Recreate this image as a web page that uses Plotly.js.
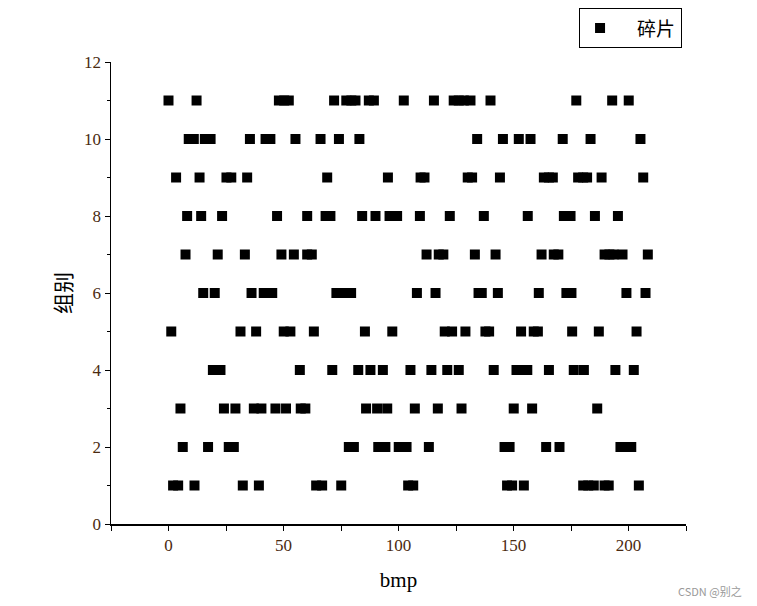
<!DOCTYPE html>
<html>
<head>
<meta charset="utf-8">
<script src="https://cdn.plot.ly/plotly-3.0.1.min.js"></script>
<style>html,body{margin:0;padding:0;background:#fff;}#chart{width:757px;height:606px;}</style>
</head>
<body>
<div id="chart"></div>
<script>
// bmp positions of the fragments for each group (组别 1..11)
const group1  = [2, 4.2, 11.3, 32.3, 39.3, 64.2, 66.8, 75.1, 104.2, 106.4, 147.2, 149.4, 154.5, 180.3, 182.5, 184.9, 189.6, 191.4, 204.5];
const group2  = [6.2, 17.2, 26.2, 28.4, 78.4, 80.6, 91.2, 94.3, 100.1, 103.5, 113.2, 146.1, 148.3, 164.2, 170, 196.5, 198.7, 201.2];
const group3  = [5.2, 24.1, 29.1, 37.1, 40.4, 46.5, 51.1, 57.5, 59.5, 85.9, 90.7, 95.1, 107.1, 117.1, 127.4, 150.1, 158.1, 186.4];
const group4  = [19.3, 22.6, 57.1, 71.2, 82.5, 87.8, 93.2, 105.2, 114.3, 121.2, 126.2, 141.4, 151.3, 154, 156, 165.4, 176.2, 180.6, 194.3, 202.3];
const group5  = [1.2, 31.3, 38.1, 50.1, 53, 63.2, 85.4, 97.3, 120.1, 123.3, 129.1, 137.8, 139.4, 153.3, 158.8, 160.6, 175.5, 187.1, 203.5];
const group6  = [15.1, 20.1, 36.1, 41.4, 45.1, 73, 76.2, 79.4, 108, 116.1, 134.8, 136.2, 143.2, 161, 173, 175.2, 199.1, 207.4];
const group7  = [7.4, 21.4, 33.2, 49.1, 54.5, 60.3, 62.3, 112.2, 117.5, 119.5, 133.2, 142.2, 162.2, 167.5, 169.5, 189.6, 191.7, 193.5, 197.4, 208.4];
const group8  = [8.1, 14.2, 23.3, 47.2, 60.3, 68.3, 70.4, 84.2, 90, 96.1, 97.8, 99.4, 109.3, 122.3, 137.1, 156.2, 171.9, 174.8, 185.4, 195.4];
const group9  = [3.3, 13.5, 25.2, 27.3, 34.2, 69, 95.4, 109.6, 111.3, 130.1, 132, 144.1, 163.2, 165.4, 167.1, 178.1, 180.3, 182, 188.3, 206.4];
const group10 = [8.8, 11, 15.8, 18.3, 35.4, 42.2, 44.3, 55.2, 66.1, 74.1, 83, 134.2, 145.4, 152.3, 157.4, 171.4, 183.5, 205.2];
const group11 = [0, 12.2, 48, 50.3, 52.3, 72, 77.3, 79.5, 81.3, 87.1, 89.3, 102.3, 115.4, 124, 126.2, 128.4, 131.3, 140, 177.3, 192.9, 200.1];

const groups = [group1, group2, group3, group4, group5, group6, group7, group8, group9, group10, group11];
const groupIds = [1, 2, 3, 4, 5, 6, 7, 8, 9, 10, 11];
const xTicks = [0, 50, 100, 150, 200];
const yTicks = [0, 2, 4, 6, 8, 10, 12];
const seriesName = '碎片';

const xs = [], ys = [];
groups.forEach((g, i) => g.forEach(v => { xs.push(v); ys.push(groupIds[i]); }));

const tickColor = '#4a2a10';
const serif = 'Liberation Serif, Times New Roman, serif';
const cjk = 'Noto Sans CJK SC, sans-serif';

const trace = {
  type: 'scatter', mode: 'markers',
  name: '\u00a0\u00a0\u00a0\u00a0' + seriesName,
  x: xs, y: ys,
  marker: {symbol: 'square', size: 10, color: '#000000'}
};

const layout = {
  width: 757, height: 606,
  margin: {l: 111, r: 71, t: 62, b: 82, autoexpand: false},
  paper_bgcolor: '#ffffff', plot_bgcolor: '#ffffff',
  showlegend: true,
  legend: {
    x: 0.814, y: 1.073, xanchor: 'left', yanchor: 'middle',
    bordercolor: '#000000', borderwidth: 1, bgcolor: '#ffffff',
    font: {family: cjk, size: 19, color: '#000000'},
    itemwidth: 30, tracegroupgap: 0
  },
  xaxis: {
    range: [-25, 225], tickvals: xTicks, ticktext: xTicks.map(String),
    showgrid: false, zeroline: false, showline: true, linecolor: '#000000', linewidth: 1.5,
    ticks: 'outside', ticklen: 5, tickwidth: 1, tickcolor: '#000000',
    minor: {tickvals: [-25, 25, 75, 125, 175, 225], ticks: 'outside', ticklen: 5, tickwidth: 1, tickcolor: '#000000', showgrid: false},
    tickfont: {family: serif, size: 17, color: tickColor},
    title: {text: 'bmp', font: {family: serif, size: 21, color: '#000000'}, standoff: 18},
    mirror: false
  },
  yaxis: {
    range: [0, 12], tickvals: yTicks, ticktext: yTicks.map(String),
    showgrid: false, zeroline: false, showline: true, linecolor: '#000000', linewidth: 1.5,
    ticks: 'outside', ticklen: 5, tickwidth: 1, tickcolor: '#000000',
    minor: {tickvals: [1, 3, 5, 7, 9, 11], ticks: 'outside', ticklen: 3, tickwidth: 1, tickcolor: '#000000', showgrid: false},
    tickfont: {family: serif, size: 17, color: tickColor},
    title: {text: '组别', font: {family: cjk, size: 21, color: '#000000'}, standoff: 6},
    mirror: false
  },
  annotations: [{
    text: 'CSDN @别之', xref: 'paper', yref: 'paper', x: 1.1, y: -0.145,
    xanchor: 'right', yanchor: 'middle', showarrow: false,
    font: {family: cjk, size: 11, color: '#999999'}
  }]
};

Plotly.newPlot('chart', [trace], layout, {displayModeBar: false, staticPlot: true});
</script>
</body>
</html>
